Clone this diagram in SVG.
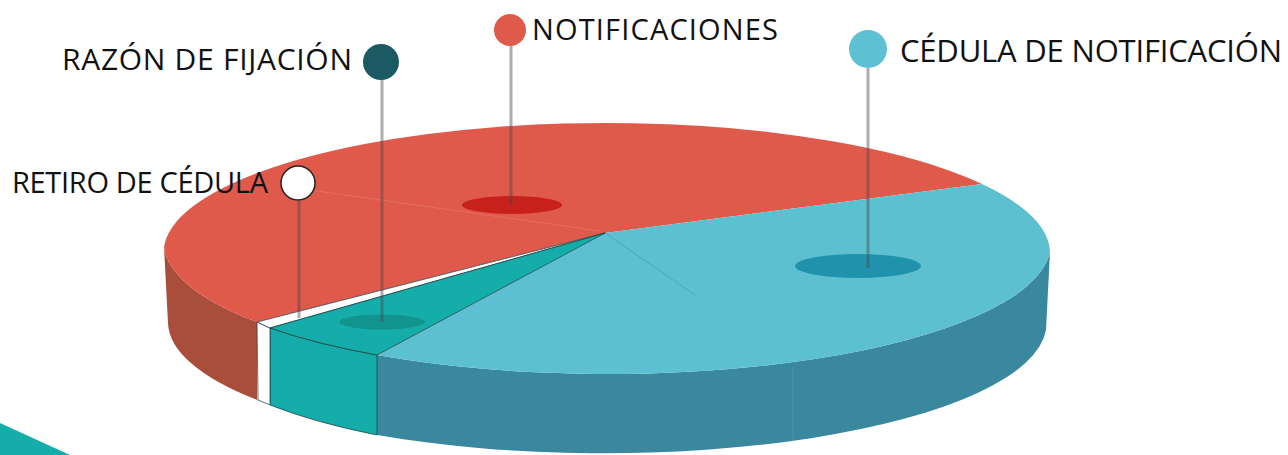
<svg xmlns="http://www.w3.org/2000/svg" width="1288" height="455" viewBox="0 0 1288 455">
<style>
.lbl{font-family:"Open Sans","Liberation Sans",sans-serif;fill:#111;}
.pinline{stroke:#4a4a4a;stroke-opacity:0.45;stroke-width:3;fill:none;}
.edge{stroke:#1f3f40;stroke-opacity:0.75;stroke-width:1;stroke-linejoin:round;}
</style>
<rect width="1288" height="455" fill="#ffffff"/>
<polygon points="0,423 70,455 0,455" fill="#14ADAA"/>
<g id="pie">
  <g id="sides">
    <path id="side-red" d="M164,247 L168,323 A443,130 0 0 0 257,400 L257,322 A443,130 0 0 1 164,247 Z" fill="#A84E3A"/>
    <path id="side-cyan" d="M377,355 A443,130 0 0 0 1050,252 L1046,330 A443,130 0 0 1 377,435 Z" fill="#3A889E"/>
    <line x1="793" y1="367" x2="793" y2="444" stroke="#ffffff" stroke-opacity="0.12" stroke-width="1"/>
    <path id="side-teal" class="edge" d="M270,328 A443,130 0 0 0 377,355 L377,435 A443,130 0 0 1 270,405 Z" fill="#14ADAA"/>
    <path id="side-white" class="edge" d="M257,322 L270,328 L270,405 L258,400 Z" fill="#ffffff"/>
  </g>
  <g id="top">
    <path id="top-red" d="M605,233 L257,322 A443,130 0 0 1 164,247 A443,130 0 0 1 982,184 Z" fill="#E05A4B"/>
    <path id="top-cyan" d="M605,233 L377,355 A443,130 0 0 0 1050,252 A443,130 0 0 0 982,184 Z" fill="#5DC0D1"/>
    <path id="top-white" class="edge" d="M605,233 L257,322 L270,328 Z" fill="#ffffff"/>
    <path id="top-teal" class="edge" d="M605,233 L270,328 A443,130 0 0 0 377,355 Z" fill="#14ADAA"/>
    <line x1="605" y1="233" x2="695" y2="295" stroke="#1f5f6f" stroke-opacity="0.25" stroke-width="1"/>
    <line x1="310" y1="190" x2="600" y2="231" stroke="#ffffff" stroke-opacity="0.12" stroke-width="1"/>
  </g>
</g>
<g id="node-notificaciones">
  <ellipse cx="512" cy="205" rx="50" ry="9" fill="#C8201A"/>
  <circle cx="510" cy="30" r="16" fill="#E05A4B"/>
  <text class="lbl" x="532" y="40" font-size="29" textLength="246">NOTIFICACIONES</text>
</g>
<g id="node-cedula">
  <ellipse cx="858" cy="266" rx="63" ry="12" fill="#2192AC"/>
  <circle cx="868" cy="49" r="19" fill="#5DC0D3"/>
  <text class="lbl" x="900" y="62" font-size="31" textLength="382">CÉDULA DE NOTIFICACIÓN</text>
</g>
<g id="node-razon">
  <ellipse cx="382" cy="322" rx="43" ry="7.5" fill="#12938E"/>
  <circle cx="381" cy="62" r="18" fill="#1B5A63"/>
  <text class="lbl" x="62" y="70" font-size="30" textLength="290">RAZÓN DE FIJACIÓN</text>
</g>
<g id="node-retiro">
  <circle cx="298" cy="183" r="17" fill="#ffffff" stroke="#222" stroke-width="1.5"/>
  <text class="lbl" x="12" y="193" font-size="29" textLength="256">RETIRO DE CÉDULA</text>
</g>
<g id="connectors">
  <line class="pinline" x1="511" y1="46" x2="511" y2="205"/>
  <line class="pinline" x1="868" y1="68" x2="868" y2="268"/>
  <line class="pinline" x1="382" y1="80" x2="382" y2="322"/>
  <line class="pinline" x1="299" y1="200" x2="299" y2="318"/>
</g>
</svg>
